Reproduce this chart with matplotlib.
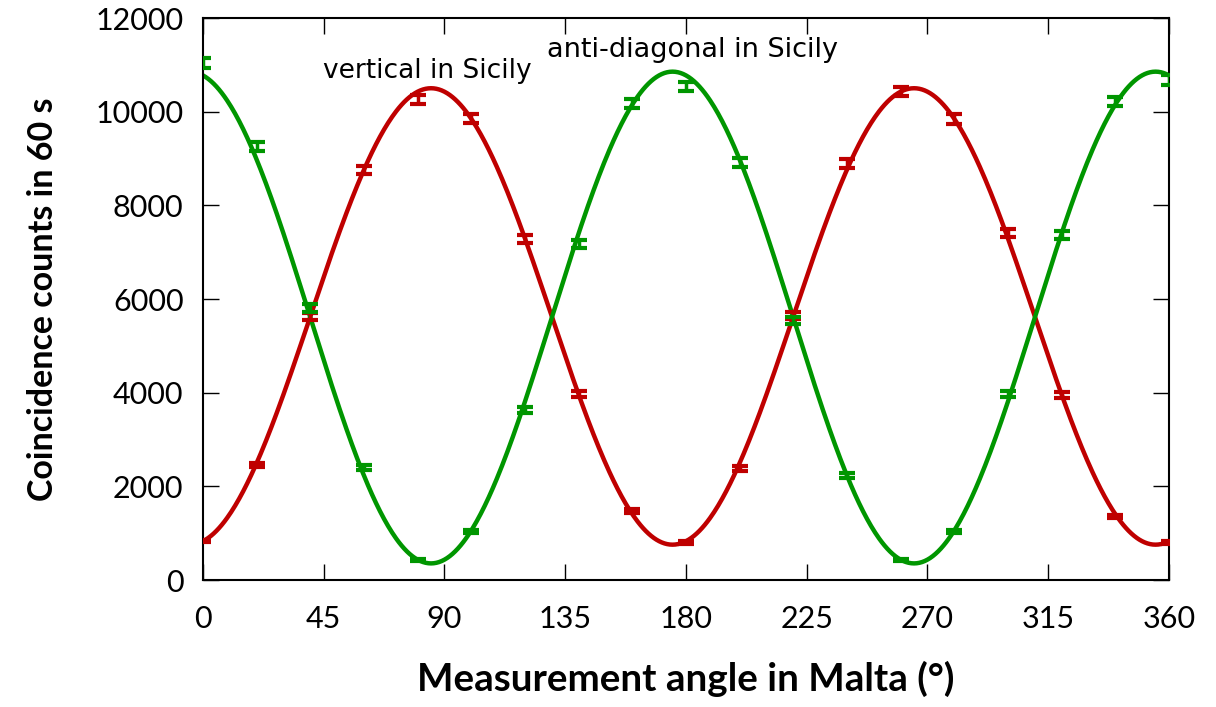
import matplotlib.pyplot as plt
import numpy as np

plt.rcParams['font.family'] = ['Lato', 'DejaVu Sans']

# 측정 각도 (Malta)
angles = [0, 20, 40, 60, 80, 100, 120, 140, 160, 180,
          200, 220, 240, 260, 280, 300, 320, 340, 360]

# vertical in Sicily (빨강)
counts_v = [833, 2456, 5630, 8755, 10265, 9859, 7288, 3965, 1480, 805,
            2385, 5650, 8887, 10427, 9844, 7400, 3950, 1352, 805]

# anti-diagonal in Sicily (초록)
counts_ad = [11033, 9253, 5808, 2406, 427, 1032, 3630, 7180, 10180, 10534,
             8911, 5540, 2228, 427, 1032, 3965, 7360, 10216, 10677]

# 피팅 파라미터 (offset, amplitude, phase in deg)
fit_v = (5628, 4873, 85.0)
fit_ad = (5605, -5250, 85.0)

red = '#bf0000'
green = '#009600'

fig = plt.figure(figsize=(12.16, 7.07), dpi=100)
ax = fig.add_axes([0.1669, 0.1796, 0.7944, 0.7949])

theta = np.linspace(0, 360, 721)

for counts, fit, col in [(counts_v, fit_v, red), (counts_ad, fit_ad, green)]:
    c = np.array(counts, dtype=float)
    ax.errorbar(angles, c, yerr=np.sqrt(c), fmt='none', ecolor=col,
                elinewidth=2.5, capsize=5.8, capthick=3, zorder=3)
    off, amp, ph = fit
    ax.plot(theta, off + amp * np.cos(np.radians(2 * (theta - ph))),
            color=col, lw=3.2, zorder=2)

ax.text(44.7, 10720, 'vertical in Sicily', family='DejaVu Sans', fontsize=19)
ax.text(128.4, 11168, 'anti-diagonal in Sicily', family='DejaVu Sans', fontsize=19.5)

ax.set_xlim(0, 360)
ax.set_ylim(0, 12000)
ax.set_xticks(np.arange(0, 361, 45))
ax.set_yticks(np.arange(0, 12001, 2000))
ax.tick_params(direction='in', length=11.5, width=1, top=True, right=True,
               labelsize=22, color='black')
ax.tick_params(axis='x', pad=18)
ax.tick_params(axis='y', pad=14)
for s in ax.spines.values():
    s.set_linewidth(1.5)

ax.set_xlabel('Measurement angle in Malta (°)', fontsize=27.8, fontweight='bold', labelpad=20)
ax.set_ylabel('Coincidence counts in 60 s', fontsize=24.5, fontweight='bold', labelpad=26)

fig.savefig('out.png', dpi=100)
